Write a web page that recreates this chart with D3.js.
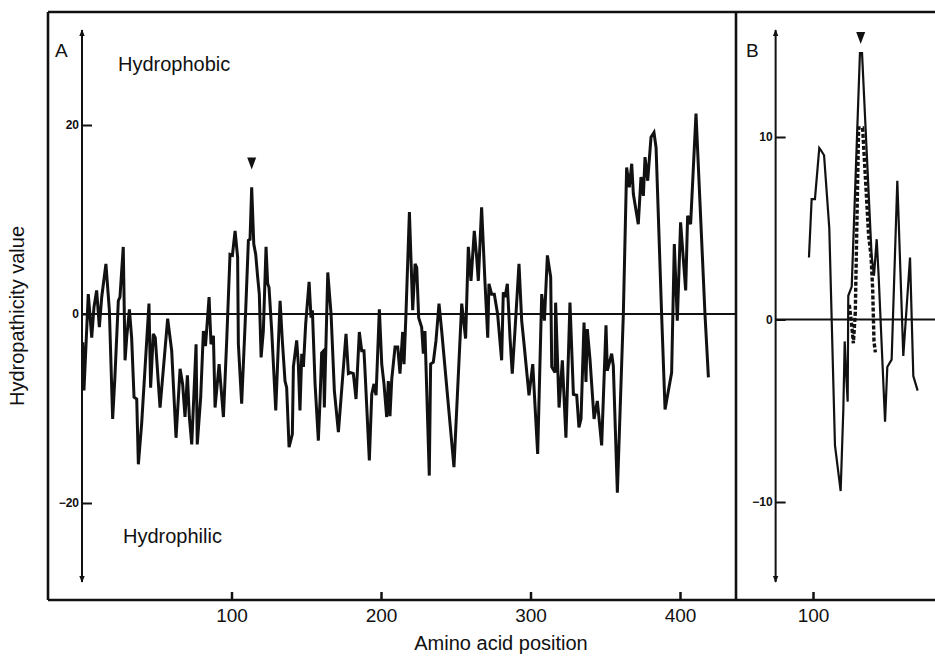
<!DOCTYPE html>
<html>
<head>
<meta charset="utf-8">
<script src="https://cdn.jsdelivr.net/npm/d3@7"></script>
<style>
	body { margin: 0; background: #fff; }
	svg text { font-family: "Liberation Sans", Arial, sans-serif; fill: #111; }
</style>
</head>
<body>
<div id="chart"></div>
<script>
'use strict'

/**
 * Hydropathicity profile, panel A (whole protein) and panel B (detail)
 */

// Panel A : residue position / hydropathicity value
const aPos = [0.5, 1.3, 2.7, 4.2, 6.5, 8, 9.8, 11.6, 13.2, 16, 18.3, 20.5, 22, 24.3, 25.4, 27.6, 28.8, 29.9, 31.7, 33.2,
	34.8, 36.6, 37.7, 39.9, 44.8, 45.9, 47.7, 49, 52.2, 57.3, 60, 62.9, 65.6, 67.3, 68.9, 70.5, 71.8, 73.4, 76.3, 77.1,
	79.4, 81.2, 82.6, 85, 86.3, 87.9, 89, 91.7, 93, 94.6, 96.8, 99, 100.6, 102.4, 104.1, 104.6, 106.8, 109.5, 111.3, 112.4,
	113.5, 114.9, 116.2, 117.5, 118.6, 119.8, 121.3, 123.1, 124.2, 125.1, 126.9, 129.6, 132.5, 134, 135.8, 136.9, 138.5, 140.7, 141.4, 143.6,
	144.7, 145.8, 147, 148.1, 149.6, 151.9, 153.2, 154.1, 155.9, 158.1, 159.2, 160.3, 161.5, 162.1, 164.4, 166.6, 168.8, 171.5, 176.6, 178.2,
	179.7, 181.5, 183.3, 185.5, 187.1, 188.6, 189.3, 192.2, 193.8, 195.3, 196.7, 198.9, 200.5, 202, 203.8, 204.9, 206, 207.2, 209.4, 211.2,
	212.7, 214.5, 215.4, 216.7, 219, 221.2, 222.8, 223.9, 225.2, 227.2, 228.3, 229.4, 232.3, 233.2, 235, 236.8, 238.8, 240.6, 248.8, 254,
	256.6, 258.4, 260.2, 262.4, 264, 265.1, 267.3, 269.6, 271.4, 272.2, 274, 275.8, 278, 280.7, 281.8, 283, 284.5, 286.3, 287.8, 289.6,
	292.3, 294.1, 295.7, 299, 301.5, 304.8, 307.5, 309.3, 311.3, 313.5, 314.2, 316.4, 316.8, 319.1, 321.3, 323.7, 326.4, 328.7, 330.9, 332.4,
	333.8, 335.8, 337.1, 338, 339.8, 342.5, 344.7, 347.6, 350.5, 351.4, 354.3, 355.4, 358.1, 362.1, 364.3, 366.1, 367.7, 368.8, 372.1, 373.9,
	375.5, 376.6, 378.4, 380.6, 382.6, 384, 387.7, 390, 394.4, 396.2, 398.2, 400.4, 403.8, 405.1, 407.1, 410.7, 416.7, 419];
const aVal = [-3, -8.1, -3.2, 2.1, -2.5, 0.7, 2.5, -1.4, 1.8, 5.3, 0.4, -11.1, -6.7, 1.4, 1.8, 7.1, -4.9, -2.5, 0.5, -2.5,
	-8.8, -9, -15.9, -11.6, 1.1, -7.8, -2.1, -2.5, -9.9, -0.5, -3.9, -13.1, -5.8, -7.4, -10.9, -6.5, -10.9, -13.8, -3.2, -13.8,
	-8.8, -1.8, -3.4, 1.8, -3.2, -2.3, -9.9, -5.3, -7.8, -10.9, -2.8, 6.3, 6.2, 8.8, 6, -3.2, -9.5, 0.4, 7.8, 7.9,
	13.4, 7.4, 6.3, 3.9, 2.1, -4.6, -1.8, 7.1, 3.2, 2.8, -1.8, -10.2, 1.4, -2.8, -7.1, -7.8, -14.1, -12.7, -5.6, -2.8,
	-5.3, -10.2, -4.2, -5.6, -1.1, 3.4, -0.4, 0.4, -7.4, -13.4, -9.2, -4.1, -3.9, -9.9, 4.4, 0, -8.1, -12.5, -2.1, -6.3,
	-6.2, -6.3, -9, -1.9, -3.9, -3.9, -6, -15.5, -8.5, -7.4, -8.6, 0.5, -5.3, -7.4, -10.9, -7.1, -10.8, -6.9, -3.5, -3.5,
	-6.3, -1.9, -5.3, 0, 10.8, 0.4, 5.3, 4.9, -0.4, -1.4, -4.2, -1.8, -17.1, -5.3, -5.1, -2.8, 1.1, -1.8, -16.2, 1.1,
	-2.6, 7.1, 3.5, 8.8, 6, 3.5, 11.3, 3.2, -2.5, 3.2, 2.1, 2.1, 0, -4.9, 2.3, 1.8, 3.2, -2.5, -6.3, -1.8,
	5.3, -0.7, -3.2, -8.6, -5.3, -14.8, 2.1, -0.7, 6.2, 3.9, -5.6, -6.2, 1.2, -9.9, -4.9, -13.1, 1.2, -8.5, -8.6, -12,
	-11.1, -0.9, -7.2, -1.6, -4.8, -11.1, -9.2, -13.9, -1.2, -6, -4.2, -5.5, -18.9, 0, 15.5, 13.4, 15.9, 12.7, 9.5, 14.5,
	12.5, 16.6, 14.1, 18.7, 19.2, 17.6, 0, -10.1, -6.2, 7.4, -0.7, 9.7, 2.5, 10.4, 9.5, 21.2, 0, -6.7];

// Panel B : solid profile
const bPos = [97.3, 99.1, 101.3, 104.2, 105.1, 107.4, 110.9, 114.7, 118.5, 120.3, 121.2, 122.1, 123.2, 123.6, 125.9, 131.4, 132.8,
	139.2, 140.8, 142.6, 143.9, 148.2, 149.7, 152.6, 156.4, 160.4, 164.9, 167.1, 170];
const bVal = [3.4, 6.6, 6.6, 9.4, 9.3, 9, 5, -6.9, -9.4, -4.9, -1.2, -2.9, -4.5, 1.3, 1.8, 14.6, 14.6,
	3.5, 2.4, 4.4, 2.4, -5.6, -2.6, -2.2, 7.6, -2, 3.4, -3.1, -3.9];

// Panel B : dashed profile
const bDashPos = [124.3, 125.9, 127, 128.3, 130.5, 133.2, 137.2, 138.8, 139.9, 140.8, 141.7];
const bDashVal = [0.8, -0.3, -1.3, 0.4, 10.5, 10.5, 4.6, 3.5, 1.7, -1.2, -1.8];

// Ticks
const aXTicks = [100, 200, 300, 400];
const aYTicks = [-20, 0, 20];
const bXTicks = [100];
const bYTicks = [-10, 0, 10];

// Arrowheads above the peaks [position, value]
const aMark = [113.5, 15.3];
const bMark = [131.9, 15.1];

const width = 935;
const height = 656;

const svg = d3.select('#chart')
	.append('svg')
	.attr('width', width)
	.attr('height', height);

svg.append('rect').attr('width', width).attr('height', height).attr('fill', '#fff');

const xA = d3.scaleLinear().domain([0, 400]).range([82, 680]);
const yA = d3.scaleLinear().domain([-20, 20]).range([503, 125]);
const xB = d3.scaleLinear().domain([100, 200]).range([813, 962.5]);
const yB = d3.scaleLinear().domain([-10, 10]).range([502, 137]);

const frameTop = 12;
const frameBottom = 600;
const frameLeft = 48;
const split = 736;

// arrow marker for the y axes
svg.append('defs').append('marker')
	.attr('id', 'arrow')
	.attr('viewBox', '0 0 10 10')
	.attr('refX', 9)
	.attr('refY', 5)
	.attr('markerWidth', 7)
	.attr('markerHeight', 8)
	.attr('markerUnits', 'userSpaceOnUse')
	.attr('orient', 'auto-start-reverse')
	.append('path')
		.attr('d', 'M0,1 L10,5 L0,9 Z')
		.attr('fill', '#111');

// Frame
const frame = svg.append('g')
	.attr('stroke', '#111')
	.attr('stroke-width', 2.6)
	.attr('fill', 'none');
frame.append('path').attr('d', `M${frameLeft},${frameTop} H${width}`);
frame.append('path').attr('d', `M${frameLeft},${frameBottom} H${width}`);
frame.append('path').attr('d', `M${frameLeft},${frameTop} V${frameBottom}`);
frame.append('path').attr('d', `M${split},${frameTop} V${frameBottom}`);

function drawPanel(x, y, xTicks, yTicks, x0, xRight){
	// y axis, arrows on both ends
	svg.append('line')
		.attr('x1', x0).attr('x2', x0)
		.attr('y1', 30).attr('y2', 582)
		.attr('stroke', '#111')
		.attr('stroke-width', 2)
		.attr('marker-start', 'url(#arrow)')
		.attr('marker-end', 'url(#arrow)');

	const yAxis = svg.append('g')
		.attr('transform', `translate(${x0},0)`)
		.call(d3.axisLeft(y).tickValues(yTicks).tickSizeInner(-10).tickSizeOuter(0).tickPadding(3).tickFormat(d3.format('d')));
	yAxis.select('.domain').remove();
	yAxis.selectAll('line').attr('stroke', '#111').attr('stroke-width', 2);
	yAxis.selectAll('text')
		.style('font-size', '12px')
		.style('font-weight', 'bold');

	const xAxis = svg.append('g')
		.attr('transform', `translate(0,${frameBottom})`)
		.call(d3.axisBottom(x).tickValues(xTicks).tickSizeInner(-8).tickSizeOuter(0).tickPadding(9));
	xAxis.select('.domain').remove();
	xAxis.selectAll('line').attr('stroke', '#111').attr('stroke-width', 2.5);
	xAxis.selectAll('text').style('font-size', '19px');

	// zero line
	svg.append('line')
		.attr('x1', x0).attr('x2', xRight)
		.attr('y1', y(0)).attr('y2', y(0))
		.attr('stroke', '#111')
		.attr('stroke-width', 2.2);
}

drawPanel(xA, yA, aXTicks, aYTicks, xA(0), split);
drawPanel(xB, yB, bXTicks, bYTicks, xB(75), width);

function profile(x, y, pos, val){
	return d3.line()
		.x((d, i) => x(pos[i]))
		.y((d, i) => y(val[i]))(pos);
}

svg.append('path')
	.attr('d', profile(xA, yA, aPos, aVal))
	.attr('fill', 'none')
	.attr('stroke', '#111')
	.attr('stroke-width', 3)
	.attr('stroke-linejoin', 'miter')
	.attr('stroke-miterlimit', 3);

svg.append('path')
	.attr('d', profile(xB, yB, bDashPos, bDashVal))
	.attr('fill', 'none')
	.attr('stroke', '#111')
	.attr('stroke-width', 3.4)
	.attr('stroke-dasharray', '4,2');

svg.append('path')
	.attr('d', profile(xB, yB, bPos, bVal))
	.attr('fill', 'none')
	.attr('stroke', '#111')
	.attr('stroke-width', 2.2)
	.attr('stroke-miterlimit', 3);

// peak arrowheads
function peakMark(x, y, m){
	const px = x(m[0]);
	const py = y(m[1]);
	svg.append('path')
		.attr('d', `M${px - 4.5},${py - 12} L${px + 4.5},${py - 12} L${px},${py} Z`)
		.attr('fill', '#111');
}
peakMark(xA, yA, aMark);
peakMark(xB, yB, bMark);

// Labels
svg.append('text').attr('x', 55).attr('y', 57).style('font-size', '19px').text('A');
svg.append('text').attr('x', 746).attr('y', 57).style('font-size', '19px').text('B');
svg.append('text').attr('x', 118).attr('y', 71).style('font-size', '20px').text('Hydrophobic');
svg.append('text').attr('x', 123).attr('y', 543).style('font-size', '20px').text('Hydrophilic');

svg.append('text')
	.attr('x', 501).attr('y', 650)
	.attr('text-anchor', 'middle')
	.style('font-size', '20px')
	.text('Amino acid position');

svg.append('text')
	.attr('transform', 'translate(24,316) rotate(-90)')
	.attr('text-anchor', 'middle')
	.style('font-size', '20px')
	.text('Hydropathicity value');
</script>
</body>
</html>
